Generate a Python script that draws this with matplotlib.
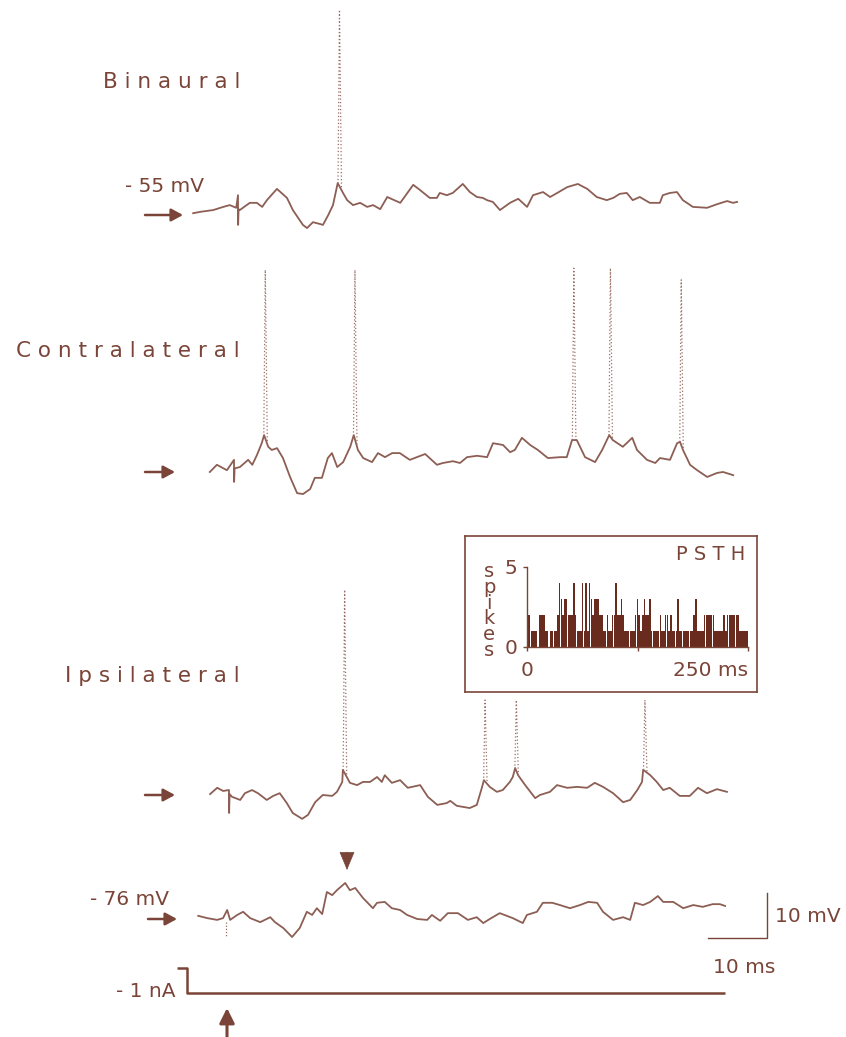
import numpy as np
import matplotlib
matplotlib.use("Agg")
import matplotlib.pyplot as plt

# ---------------- data ----------------
# time (ms, relative to stimulus onset) and membrane potential (mV, relative to resting level marked by arrow)
binaural_t = [-7.6, -6.4, -4.2, -2.5, -1.4, -0.3, 0.0, 0.02, 0.1, 0.3,
              2.0, 3.2, 4.1, 4.9, 6.6, 8.3, 9.3, 11.0, 11.7, 12.7,
              13.9, 14.4, 15.3, 16.1, 16.9, 17.8, 18.5, 19.5, 20.7, 21.9,
              22.9, 24.1, 25.3, 27.5, 29.7, 30.8, 32.5, 33.7, 34.2, 35.4,
              36.4, 38.1, 39.3, 40.5, 41.5, 42.2, 43.2, 44.4, 46.1, 47.5,
              49.0, 50.0, 51.7, 52.9, 54.1, 55.8, 57.6, 59.2, 60.8, 62.5,
              63.6, 64.7, 65.9, 66.9, 68.1, 69.8, 71.5, 72.0, 73.2, 74.4,
              75.4, 77.1, 79.5, 81.2, 82.9, 83.9, 84.6]
binaural_v = [0.4, 0.7, 1.1, 1.8, 2.2, 1.6, 4.4, -2.2, 1.3, 1.1,
              2.7, 2.7, 1.8, 3.3, 5.8, 3.8, 1.1, -2.2, -2.9, -1.6,
              -2.0, -2.2, 0.0, 2.2, 7.1, 4.9, 3.3, 2.2, 2.7, 1.8,
              2.2, 1.3, 4.0, 2.7, 6.7, 5.6, 3.8, 3.8, 4.9, 4.4,
              4.9, 6.9, 5.1, 4.0, 3.8, 3.3, 2.9, 1.1, 2.7, 3.6,
              1.8, 4.4, 5.1, 4.0, 4.9, 6.2, 6.9, 5.8, 4.0, 3.3,
              3.8, 4.7, 4.9, 3.3, 4.0, 2.7, 2.7, 4.4, 4.9, 5.1,
              3.3, 1.8, 1.6, 2.4, 3.1, 2.7, 2.9]
binaural_spike_t = [17.2]
binaural_spike_peak = [45.6]

contra_t = [-4.1, -2.9, -1.2, 0.0, 0.02, 0.1, 1.0, 2.4, 3.1, 3.9,
            4.7, 5.1, 5.8, 6.4, 7.3, 8.3, 9.5, 10.7, 11.7, 12.9,
            13.7, 14.9, 15.9, 16.6, 17.5, 18.5, 19.7, 20.3, 21.0, 21.9,
            23.4, 24.4, 25.6, 26.8, 28.1, 29.8, 31.0, 32.4, 34.4, 35.4,
            37.1, 38.3, 39.5, 41.2, 42.9, 43.9, 45.6, 46.8, 47.6, 48.8,
            50.2, 51.5, 53.2, 55.3, 56.4, 57.3, 58.1, 59.5, 61.2, 62.4,
            63.6, 64.2, 65.9, 67.5, 68.3, 70.0, 71.4, 72.2, 73.9, 75.1,
            75.6, 76.1, 77.3, 78.5, 80.2, 81.9, 82.9, 84.6]
contra_v = [0.0, 1.6, 0.4, 2.7, -2.2, 0.8, 1.1, 2.7, 1.6, 3.8,
            6.4, 8.2, 5.6, 4.9, 5.3, 3.1, -1.1, -4.7, -4.9, -3.8,
            -1.3, -1.3, 3.1, 4.2, 1.1, 2.2, 5.6, 8.2, 4.9, 3.1,
            2.2, 4.2, 3.3, 4.2, 4.2, 2.7, 3.3, 4.0, 1.6, 2.0,
            2.4, 2.0, 3.3, 3.6, 3.3, 6.4, 6.0, 4.4, 4.9, 7.6,
            6.0, 4.9, 3.1, 3.3, 3.3, 7.1, 7.1, 3.3, 2.2, 4.9,
            8.2, 7.1, 5.6, 7.6, 4.9, 2.7, 2.0, 3.1, 2.7, 6.4,
            6.7, 4.9, 1.6, 0.4, -1.1, -0.2, 0.0, -0.7]
contra_spike_t = [5.3, 20.5, 57.6, 63.8, 75.8]
contra_spike_peak = [44.9, 44.9, 45.3, 45.3, 42.7]

ipsi_t = [-3.2, -2.0, -1.0, 0.0, 0.02, 0.1, 0.5, 1.9, 2.7, 3.9,
          4.9, 6.4, 7.5, 8.6, 9.8, 10.8, 12.4, 13.4, 14.6, 15.9,
          17.5, 18.3, 19.2, 19.3, 20.5, 21.7, 22.7, 23.9, 25.1,
          25.9, 26.4, 27.6, 29.0, 30.3, 32.4, 33.7, 35.3, 36.9, 37.5,
          38.6, 40.8, 42.0, 42.9, 43.2, 44.2, 45.4, 46.4, 47.6, 48.1,
          48.5, 49.0, 50.2, 51.9, 52.7, 54.4, 55.6, 57.3, 59.0, 60.7,
          62.0, 63.4, 65.1, 66.8, 68.0, 69.2, 70.0, 70.2, 71.4, 72.5,
          73.6, 74.7, 76.4, 78.1, 79.5, 81.0, 82.7, 84.4]
ipsi_v = [0.2, 1.6, 0.9, 1.1, -4.0, 0.2, -0.4, -1.1, 0.4, 1.1,
          0.4, -1.1, -0.2, 0.4, -1.8, -4.0, -5.3, -4.4, -1.6, 0.0,
          -0.2, 0.7, 2.9, 5.6, 2.7, 2.2, 2.9, 2.9, 4.0,
          2.9, 4.4, 2.7, 3.3, 1.6, 2.2, -0.4, -2.2, -1.8, -1.3,
          -2.4, -2.9, -2.2, 1.8, 3.3, 1.8, 0.7, 1.1, 2.9, 4.0,
          6.0, 4.4, 2.2, -0.7, 0.0, 0.7, 2.2, 1.6, 1.8, 1.6,
          2.7, 1.8, 0.4, -1.6, -1.1, 1.1, 2.9, 5.6, 4.4, 2.9,
          1.1, 1.6, -0.2, -0.2, 1.6, 0.4, 1.3, 0.7]
ipsi_spike_t = [19.6, 43.4, 48.7, 70.5]
ipsi_spike_peak = [45.6, 21.1, 21.1, 21.1]

hyper_t = [-4.7, -3.2, -1.5, -0.5, 0.2, 0.7, 1.9, 2.9, 4.1, 5.8,
           7.5, 8.3, 9.7, 11.2, 12.5, 13.7, 14.6, 15.4, 16.3, 17.1,
           18.0, 18.8, 20.2, 21.0, 21.9, 23.2, 24.9, 25.6, 26.9, 28.1,
           29.5, 30.7, 32.4, 34.1, 34.9, 36.3, 37.6, 39.3, 41.0, 42.5,
           43.6, 44.7, 46.4, 48.6, 50.3, 51.0, 52.7, 53.7, 55.3, 56.6,
           58.3, 60.0, 61.4, 62.9, 63.9, 65.6, 67.3, 68.5, 69.3, 70.7,
           71.9, 73.2, 74.1, 75.8, 77.5, 79.2, 80.8, 82.5, 83.7, 84.6]
hyper_v = [0.7, 0.2, -0.2, 0.2, 2.0, -0.2, 0.9, 1.6, 0.2, -0.7,
           0.4, -0.7, -2.0, -4.0, -2.0, 1.6, 0.9, 2.4, 1.1, 6.0,
           5.3, 6.4, 8.0, 6.4, 6.9, 4.7, 2.4, 3.6, 3.8, 2.4,
           2.0, 0.9, 0.0, -0.2, 0.9, -0.4, 1.3, 1.3, -0.2, 0.4,
           -0.9, 0.0, 1.3, 0.2, -0.9, 0.9, 1.6, 3.6, 3.6, 3.1,
           2.4, 3.1, 3.8, 3.6, 1.6, -0.2, 0.4, -0.2, 3.6, 3.1,
           3.8, 5.1, 3.8, 3.8, 2.4, 3.1, 2.7, 3.3, 3.3, 2.9]
hyper_artifact_v = [-0.7, -4.0]

current_t = [-8.3, -6.6, -6.6, 84.6]
current_nA = [0.0, 0.0, -1.0, -1.0]

# PSTH: spike counts in 2-ms bins, 0-250 ms
psth_bin_ms = 2.0
psth_counts = [2, 2, 1, 1, 1, 1, 0, 2, 2, 2,
               1, 1, 0, 1, 1, 1, 1, 2, 4, 3,
               2, 3, 3, 2, 2, 2, 4, 2, 1, 1,
               1, 4, 1, 4, 1, 4, 3, 2, 3, 3,
               3, 2, 2, 1, 1, 2, 1, 1, 2, 2,
               4, 2, 2, 3, 2, 1, 1, 1, 1, 1,
               1, 2, 3, 2, 1, 2, 3, 2, 2, 3,
               1, 1, 1, 1, 1, 2, 1, 1, 2, 2,
               1, 2, 1, 1, 1, 3, 1, 1, 1, 1,
               1, 1, 1, 1, 2, 3, 1, 1, 1, 1,
               2, 2, 2, 2, 2, 2, 1, 1, 1, 1,
               1, 2, 1, 2, 2, 2, 2, 2, 2, 2,
               1, 1, 1, 1, 1]

# ---------------- layout / style ----------------
W, H, DPI = 846, 1037, 100
PX_PER_MS = 5.9
PX_PER_MV = 4.5
PX_PER_NA = 25.0
X0_PX = 226.0
TXT = "#7a4538"
TRC = "#8c5e54"
SPK = "#9a6e66"
BAR = "#6a2b1f"
FS = 14.5
plt.rcParams["font.family"] = ["DejaVu Sans"]

def base_u(arrow_py):
    return (H - arrow_py) / PX_PER_MV

traces = [
    (binaural_t, binaural_v, binaural_spike_t, binaural_spike_peak, 12 / PX_PER_MS, base_u(215)),
    (contra_t, contra_v, contra_spike_t, contra_spike_peak, 8 / PX_PER_MS, base_u(472)),
    (ipsi_t, ipsi_v, ipsi_spike_t, ipsi_spike_peak, 3 / PX_PER_MS, base_u(795)),
    (hyper_t, hyper_v, [], [], 0.0, base_u(919)),
]

fig = plt.figure(figsize=(W / DPI, H / DPI), dpi=DPI)
fig.patch.set_facecolor("white")

ax = fig.add_axes([0, 0, 1, 1])
ax.set_xlim(-X0_PX / PX_PER_MS, (W - X0_PX) / PX_PER_MS)
ax.set_ylim(0, H / PX_PER_MV)
ax.axis("off")
ax.patch.set_alpha(0)

for t, v, st, sp, dx, b in traces:
    t = np.asarray(t) + dx
    v = np.asarray(v) + b
    ax.plot(t, v, color=TRC, lw=1.3, solid_joinstyle="round")
    for ts, peak in zip(st, sp):
        ts = ts + dx
        t_up, t_dn = ts - 0.25, ts + 0.35
        ax.plot([t_up, ts, t_dn],
                [np.interp(t_up, t, v), peak + b, np.interp(t_dn, t, v)],
                color=SPK, lw=0.9, ls=(0, (1, 1.8)))

# artifact below hyperpolarized trace (dotted)
hb = base_u(919)
ax.plot([0, 0], [hyper_artifact_v[0] + hb, hyper_artifact_v[1] + hb],
        color=SPK, lw=0.9, ls=(0, (1, 1.5)))

# current trace
cur0 = (H - 968) / PX_PER_MV
ax.plot(current_t, cur0 + np.asarray(current_nA) * PX_PER_NA / PX_PER_MV,
        color=TXT, lw=1.8, solid_capstyle="butt")

# scale bars: 10 ms / 10 mV
sb_x = (767 - X0_PX) / PX_PER_MS
sb_y = (H - 938) / PX_PER_MV
ax.plot([sb_x - 10, sb_x, sb_x], [sb_y, sb_y, sb_y + 10], color=TXT, lw=1.0)

# ---------------- overlay for labels and arrows (pixel coords) ----------------
ov = fig.add_axes([0, 0, 1, 1])
ov.set_xlim(0, W)
ov.set_ylim(H, 0)
ov.axis("off")
ov.patch.set_alpha(0)

def label(x, y, s, ha="left", size=FS):
    ov.text(x, y, s, ha=ha, va="baseline", fontsize=size, color=TXT)

label(240, 88, "B i n a u r a l", ha="right", size=15.5)
label(240, 357, "C o n t r a l a t e r a l", ha="right", size=15.5)
label(240, 682, "I p s i l a t e r a l", ha="right", size=15.5)
label(125, 192, "- 55 mV")
label(90, 905, "- 76 mV")
label(175, 997, "- 1 nA", ha="right")
label(775, 922, "10 mV")
label(713, 973, "10 ms")

def arrow(x0, y0, x1, y1, hl=0.7, hw=0.38, lw=1.8):
    ov.annotate("", xy=(x1, y1), xytext=(x0, y0),
                arrowprops=dict(arrowstyle=f"-|>,head_length={hl},head_width={hw}",
                                lw=lw, color=TXT, shrinkA=0, shrinkB=0))

arrow(145, 215, 183, 215)
arrow(145, 472, 175, 472)
arrow(145, 795, 175, 795)
arrow(148, 919, 177, 919)
arrow(227, 1037, 227, 1008, hl=0.9, hw=0.45, lw=2.2)
arrow(347, 852, 347, 870, hl=1.2, hw=0.5, lw=0.5)

# ---------------- PSTH inset ----------------
box = fig.add_axes([465 / W, 1 - 692 / H, 292 / W, 156 / H])
box.set_xticks([]); box.set_yticks([])
box.patch.set_alpha(0)
for s in box.spines.values():
    s.set_color(TXT); s.set_linewidth(1.2)

ph = fig.add_axes([527 / W, 1 - 647 / H, 221 / W, 80 / H])
edges = np.arange(len(psth_counts)) * psth_bin_ms
ph.bar(edges, psth_counts, width=psth_bin_ms * 0.9, align="edge", color=BAR, edgecolor="none")
ph.set_xlim(0, 250)
ph.set_ylim(0, 5)
ph.patch.set_alpha(0)
for s in ["top", "right"]:
    ph.spines[s].set_visible(False)
for s in ["left", "bottom"]:
    ph.spines[s].set_color(TXT); ph.spines[s].set_linewidth(1.0)
ph.set_xticks([0, 125, 250], ["0", "", "250 ms"])
ph.set_yticks([0, 5], ["0", "5"])
ph.tick_params(colors=TXT, labelcolor=TXT, labelsize=FS, length=3, width=1.0)
ph.tick_params(axis="x", pad=7)
ph.tick_params(axis="y", pad=4)
ph.get_xticklabels()[2].set_horizontalalignment("right")

label(745, 560, "P S T H", ha="right", size=14)
ov.text(489, 611, "\n".join("spikes"), ha="center", va="center", fontsize=14,
        color=TXT, linespacing=0.78)

fig.savefig("out.png", dpi=DPI, facecolor="white")
